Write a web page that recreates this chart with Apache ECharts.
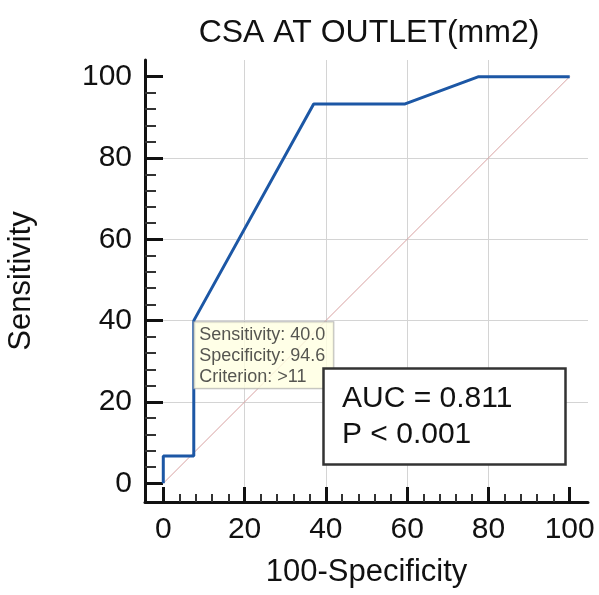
<!DOCTYPE html>
<html lang="en">

<head>
    <meta charset="UTF-8">
    <title>ROC curve</title>
    <script src="https://cdn.jsdelivr.net/npm/echarts@6/dist/echarts.min.js"></script>
    <style>
        body { margin: 0; background: #fff; }
    </style>
</head>

<body>
    <div id="main" style="width: 599px;height:595px;"></div>
    <script type="text/javascript">

        // ROC curve points: 100-Specificity / Sensitivity
        const rocX = [0, 0, 7.5, 7.5, 37, 59.5, 77.6, 100];
        const rocY = [0, 6.7, 6.7, 40, 93.3, 93.3, 100, 100];
        // reference diagonal
        const diagX = [0, 100];
        const diagY = [0, 100];
        // highlighted criterion point and its box text
        const critPoint = [7.5, 40];
        const critText = ['Sensitivity: 40.0', 'Specificity: 94.6', 'Criterion: >11'];
        const aucText = ['AUC = 0.811', 'P < 0.001'];
        // ticks
        const majorTicks = [0, 20, 40, 60, 80, 100];
        const minorTicks = [4, 8, 12, 16, 24, 28, 32, 36, 44, 48, 52, 56, 64, 68, 72, 76, 84, 88, 92, 96];

        const font = "'Liberation Sans', Arial, sans-serif";

        var myChart = echarts.init(document.getElementById('main'));

        // axis with only the line and the short ticks
        function minorAxis(pos, min, max, len) {
            return {
                type: 'value', position: pos, min: min, max: max,
                axisLine: { show: true, onZero: false, lineStyle: { color: '#111', width: 3 } },
                axisTick: { show: true, inside: true, length: len, customValues: minorTicks, lineStyle: { color: '#333', width: 2 } },
                axisLabel: { show: false },
                splitLine: { show: false }
            };
        }
        // axis with long ticks, labels, grid lines and the name
        function majorAxis(pos, min, max, len, name, gap, margin) {
            return {
                type: 'value', position: pos, min: min, max: max,
                name: name, nameLocation: 'middle', nameGap: gap,
                nameTextStyle: { fontFamily: font, fontSize: 31, color: '#111' },
                axisLine: { show: false, onZero: false },
                axisTick: { show: true, inside: true, length: len, customValues: majorTicks, lineStyle: { color: '#111', width: 3 } },
                axisLabel: { show: true, customValues: majorTicks, margin: margin, fontFamily: font, fontSize: 30, color: '#111' },
                splitLine: { show: true, showMinLine: false, showMaxLine: false, lineStyle: { color: '#d4d4d4', width: 1 } }
            };
        }

        option = {
            backgroundColor: '#fff',
            animation: false,
            title: [
                {
                    text: 'CSA AT OUTLET(mm2)',
                    left: 369, top: 17, padding: 0, textAlign: 'center',
                    textStyle: { fontFamily: font, fontSize: 32, fontWeight: 'normal', color: '#111' }
                },
                {
                    text: aucText.join('\n'),
                    left: 323, top: 368,
                    padding: [13, 53, 12, 19],
                    backgroundColor: '#fff',
                    borderColor: '#333', borderWidth: 2.5,
                    textStyle: { fontFamily: font, fontSize: 30, fontWeight: 'normal', color: '#111', lineHeight: 36 }
                }
            ],
            grid: { left: 145, right: 11, top: 60, bottom: 93, containLabel: false, outerBoundsMode: 'none' },
            xAxis: [
                minorAxis('bottom', -4.5, 104.5, 8),
                majorAxis('bottom', -4.5, 104.5, 15, '100-Specificity', 55, 13)
            ],
            yAxis: [
                minorAxis('left', -4.6, 104.1, 11),
                majorAxis('left', -4.6, 104.1, 18, 'Sensitivity', 108, 13)
            ],
            series: [
                {
                    type: 'line',
                    data: diagX.map((x, i) => [x, diagY[i]]),
                    symbol: 'none',
                    lineStyle: { color: '#d9a2a2', width: 1 },
                    z: 2
                },
                {
                    type: 'line',
                    data: rocX.map((x, i) => [x, rocY[i]]),
                    symbol: 'none',
                    lineStyle: { color: '#1c57a5', width: 3 },
                    z: 3
                },
                {
                    type: 'scatter',
                    data: [critPoint],
                    symbolSize: 1,
                    itemStyle: { color: 'rgba(0,0,0,0)' },
                    z: 5,
                    label: {
                        show: true,
                        position: [1, 2],
                        align: 'left',
                        verticalAlign: 'top',
                        formatter: critText.join('\n'),
                        fontFamily: font,
                        fontSize: 18,
                        lineHeight: 21,
                        color: '#2a2a2a',
                        backgroundColor: '#ffffe1',
                        borderColor: '#a8a8a8',
                        borderWidth: 1,
                        padding: [2, 8, 1, 5]
                    }
                }
            ]
        };

        myChart.setOption(option);

    </script>
</body>

</html>
